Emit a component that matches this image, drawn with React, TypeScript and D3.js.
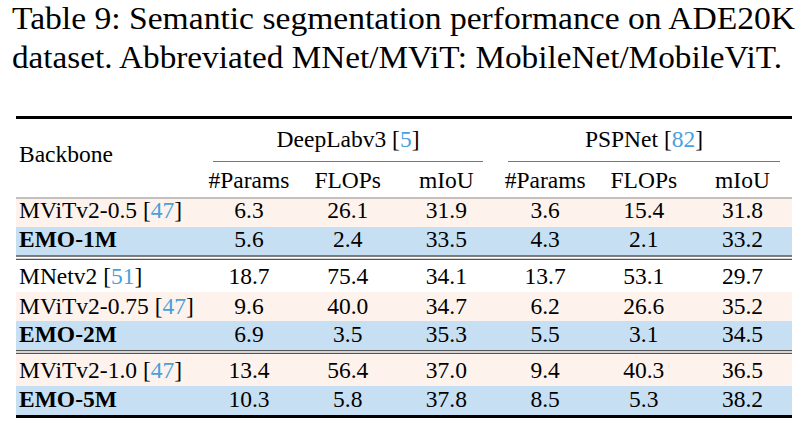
import React from "react";
import * as d3 from "d3";

const titleLines = [
  "Table 9: Semantic segmentation performance on ADE20K",
  "dataset. Abbreviated MNet/MViT: MobileNet/MobileViT.",
];
const groups = [
  { name: "DeepLabv3", cite: "5" },
  { name: "PSPNet", cite: "82" },
];
const metricHeaders = ["#Params", "FLOPs", "mIoU", "#Params", "FLOPs", "mIoU"];
const backbones = ["MViTv2-0.5", "EMO-1M", "MNetv2", "MViTv2-0.75", "EMO-2M", "MViTv2-1.0", "EMO-5M"];
const cites = ["47", "", "51", "47", "", "47", ""];
const deeplabParams = ["6.3", "5.6", "18.7", "9.6", "6.9", "13.4", "10.3"];
const deeplabFlops = ["26.1", "2.4", "75.4", "40.0", "3.5", "56.4", "5.8"];
const deeplabMiou = ["31.9", "33.5", "34.1", "34.7", "35.3", "37.0", "37.8"];
const pspParams = ["3.6", "4.3", "13.7", "6.2", "5.5", "9.4", "8.5"];
const pspFlops = ["15.4", "2.1", "53.1", "26.6", "3.1", "40.3", "5.3"];
const pspMiou = ["31.8", "33.2", "29.7", "35.2", "34.5", "36.5", "38.2"];
const rowKinds = ["base", "ours", "plain", "base", "ours", "base", "ours"];

const W = 803, H = 430;
const FONT = "'Liberation Serif', 'Times New Roman', serif";
const LINK = "#4a9fdc";
const PEACH = "#fdf3ec";
const BLUE = "#c6dff2";

const rowTops = [198, 227, 260, 292, 321, 354, 386];
const rowBots = [227, 255.5, 292, 321, 350, 386, 415];
const baselines = [218, 247, 284, 313.5, 341.5, 378, 406.5];

export default function App() {
  const x = d3.scalePoint<number>().domain(d3.range(6)).range([249, 742.5]);
  const cols = [deeplabParams, deeplabFlops, deeplabMiou, pspParams, pspFlops, pspMiou];
  const L = 16, R = 792;
  const groupSpans = [[213, 483], [508, 780]];
  const fill = (k: string) => (k === "ours" ? BLUE : k === "base" ? PEACH : "#ffffff");
  return (
    <svg width={W} height={H} style={{ position: "absolute", left: 0, top: 0, background: "#fff" }} fontFamily={FONT}>
      <rect x={0} y={0} width={W} height={H} fill="#fff" />
      {titleLines.map((t, i) => (
        <text key={i} x={12} y={[29, 68][i]} fontSize={32} fill="#000"
          textLength={[783, 770][i]} lengthAdjust="spacingAndGlyphs">{t}</text>
      ))}
      {backbones.map((b, i) => (
        <rect key={"bg" + i} x={L} y={rowTops[i]} width={R - L} height={rowBots[i] - rowTops[i]} fill={fill(rowKinds[i])} />
      ))}
      <line x1={L} x2={R} y1={117.5} y2={117.5} stroke="#000" strokeWidth={3} />
      <line x1={L} x2={R} y1={416.5} y2={416.5} stroke="#000" strokeWidth={3} />
      <line x1={L} x2={R} y1={198} y2={198} stroke="#888" strokeWidth={1} />
      {[256, 259.3, 350.7, 353.3].map((y, i) => (
        <line key={"dr" + i} x1={L} x2={R} y1={y} y2={y} stroke="#555" strokeWidth={1.3} />
      ))}
      {groups.map((g, i) => (
        <g key={"g" + i}>
          <text x={(groupSpans[i][0] + groupSpans[i][1]) / 2} y={147} fontSize={23.5} textAnchor="middle">
            {g.name + " ["}<tspan fill={LINK}>{g.cite}</tspan>{"]"}
          </text>
          <line x1={groupSpans[i][0]} x2={groupSpans[i][1]} y1={161.5} y2={161.5} stroke="#777" strokeWidth={1.2} />
        </g>
      ))}
      <text x={19} y={162} fontSize={23.5}>Backbone</text>
      {metricHeaders.map((m, j) => (
        <text key={"h" + j} x={x(j)} y={188} fontSize={23.5} textAnchor="middle">{m}</text>
      ))}
      {backbones.map((b, i) => (
        <g key={"r" + i}>
          <text x={19} y={baselines[i]} fontSize={23.5} fontWeight={rowKinds[i] === "ours" ? "bold" : "normal"}>
            {cites[i] ? <>{b + " ["}<tspan fill={LINK}>{cites[i]}</tspan>{"]"}</> : b}
          </text>
          {cols.map((c, j) => (
            <text key={j} x={x(j)} y={baselines[i]} fontSize={23.5} textAnchor="middle">{c[i]}</text>
          ))}
        </g>
      ))}
    </svg>
  );
}
